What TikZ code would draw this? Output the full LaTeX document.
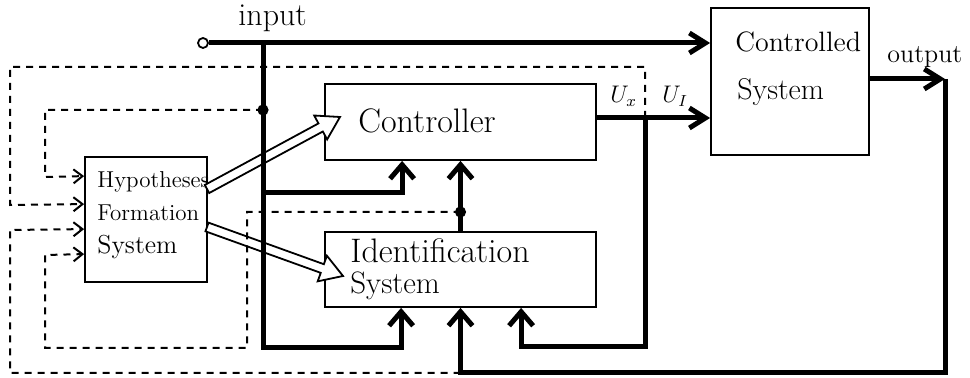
\documentclass[tikz,border=0pt]{standalone}
\usepackage{fontspec}
\usetikzlibrary{arrows.meta,calc}
\newcommand\hollowarrow[2]{%
  \coordinate (hh) at ($(#2)!11pt!(#1)$);
  \filldraw[fill=white,line width=0.9pt,line join=miter]
    ($(#1)!2.3pt!90:(#2)$) -- ($(hh)!2.3pt!90:(#2)$) -- ($(hh)!6.8pt!90:(#2)$) -- (#2)
    -- ($(hh)!6.8pt!-90:(#2)$) -- ($(hh)!2.3pt!-90:(#2)$) -- ($(#1)!2.3pt!-90:(#2)$) -- cycle;
}
\begin{document}
\begin{tikzpicture}[x=0.5pt,y=-0.5pt,
  box/.style={draw,line width=0.9pt,inner sep=0pt},
  heavy/.style={line width=2.5pt},
  dline/.style={line width=1pt,dash pattern=on 3.5pt off 3pt},
  bigtip/.style={-{Straight Barb[length=7pt,width=12pt]}},
  midtip/.style={-{Straight Barb[length=8pt,width=10pt]}},
  dtip/.style={-{Straight Barb[length=4.5pt,width=7pt]}},
  txt/.style={anchor=base west,inner sep=0pt},
  big/.style={font=\fontsize{17}{20}\selectfont},
  mid/.style={font=\fontsize{14}{17}\selectfont},
  small/.style={font=\fontsize{11.5}{14}\selectfont}]
\useasboundingbox (0,0) rectangle (970,378);
% boxes
\node[box,minimum width=135.5pt,minimum height=38pt] (ctrl) at (460.5,122) {};
\node[box,minimum width=135.5pt,minimum height=37.5pt] (ident) at (460.5,269.5) {};
\node[box,minimum width=61pt,minimum height=62.5pt] (hyp) at (146,219.5) {};
\node[box,minimum width=79pt,minimum height=73.5pt] (plant) at (790,81.5) {};
% texts
\node[txt,big] (tctrl) at (358,133) {Controller};
\node[txt,big] (tid1) at (350,263) {Identification};
\node[txt,font=\fontsize{15.5}{18}\selectfont] (tid2) at (350,294) {System};
\node[txt,small] (th1) at (97,188) {Hypotheses};
\node[txt,small] (th2) at (97,221) {Formation};
\node[txt,font=\fontsize{13}{16}\selectfont] (th3) at (97,254) {System};
\node[txt,mid] (tp1) at (735,52) {Controlled};
\node[txt,font=\fontsize{15}{18}\selectfont] (tp2) at (737,100) {System};
\node[txt,font=\fontsize{16}{19}\selectfont] (tin) at (238,26) {input};
\node[txt,font=\fontsize{13}{16}\selectfont] (tout) at (887,63) {output};
\node[txt,font=\fontsize{12}{14}\selectfont] (tux) at (610,103) {$U_x$};
\node[txt,font=\fontsize{12}{14}\selectfont] (tui) at (662,103) {$U_I$};
% coordinates
\coordinate (jIn) at (263,43);
\coordinate (jD) at (263,110);
\coordinate (jC) at (263,193);
\coordinate (jB) at (263,348);
\coordinate (jE) at (460.5,212);
\coordinate (cout) at ($(ctrl.east)+(0,-4)$);
\coordinate (ju) at (645,118);
\coordinate (pout) at ($(plant.east)+(0,-2.5)$);
\coordinate (oc) at (945,79);
\coordinate (jbot) at (460.5,373);
\coordinate (h1a) at (207,189); \coordinate (h1b) at (340,117);
\coordinate (h2a) at (207,227); \coordinate (h2b) at (343,276);
% hollow arrows
\hollowarrow{h1a}{h1b}
\hollowarrow{h2a}{h2b}
% input
\node[circle,draw,line width=0.9pt,minimum size=5pt,inner sep=0pt,fill=white] (inp) at (203,43) {};
\draw[heavy,midtip] (inp.east) -- (inp.east -| plant.west);
\draw[heavy,bigtip] (jIn) -- (jB) -| ($(ident.south west)+(77,0)$);
\draw[heavy,bigtip] (jC) -| ($(ctrl.south west)+(78,0)$);
\draw[heavy,bigtip] (ident.north) -- (ctrl.south);
% controller output
\draw[heavy,midtip] (cout) -- (cout -| plant.west);
\draw[heavy,bigtip] (ju) -- (645,347) -| ($(ident.south west)+(197,0)$);
% plant output
\draw[heavy,midtip] (pout) -- (oc);
\draw[heavy,bigtip] (oc) -- (945,373) -| (ident.south);
% dashed feedback
\draw[dline,dtip] (ju) -- (645,67) -- (10,67) -- (10,205) -- ($(hyp.north west)+(0,48)$);
\draw[dline,dtip] (jbot) -- (10,373) -- (10,230) -- ($(hyp.north west)+(0,73)$);
\draw[dline,dtip] (jD) -- (45,110) -- (45,177) -- ($(hyp.north west)+(0,20)$);
\draw[dline,dtip] (jE) -- (247,212) -- (247,348) -- (45,348) -- (45,255) -- ($(hyp.north west)+(0,98)$);
% dots
\fill (jD) circle (2.8pt);
\fill (jE) circle (2.8pt);
\end{tikzpicture}
\end{document}
